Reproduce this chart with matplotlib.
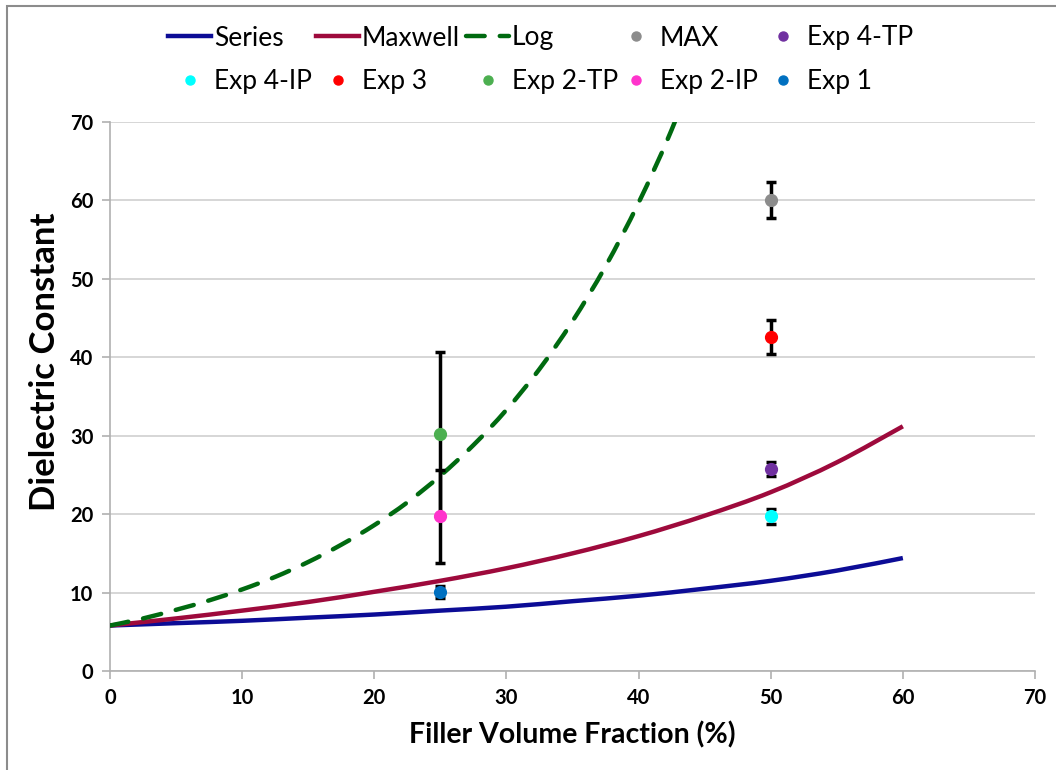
import matplotlib
matplotlib.use("Agg")
import matplotlib.pyplot as plt
from matplotlib.lines import Line2D
from matplotlib.patches import Rectangle, PathPatch
from matplotlib.path import Path

plt.rcParams['font.family'] = ['Lato', 'DejaVu Sans']

# Model curves: filler volume fraction (%) vs dielectric constant
model_x = [0, 5, 10, 15, 20, 25, 30, 35, 40, 45, 50, 55, 60]
series_y = [5.8, 6.1, 6.4, 6.8, 7.2, 7.7, 8.2, 8.9, 9.6, 10.5, 11.5, 12.8, 14.4]
maxwell_y = [5.8, 6.7, 7.7, 8.8, 10.1, 11.5, 13.1, 15.0, 17.2, 19.8, 22.8, 26.6, 31.2]

log_x = [0, 2.5, 5, 7.5, 10, 12.5, 15, 17.5, 20, 22.5, 25, 27.5, 30,
         32.5, 35, 37.5, 40, 42.5, 45]
log_y = [5.8, 6.7, 7.8, 9.0, 10.4, 12.0, 13.9, 16.1, 18.6, 21.5, 24.9, 28.8,
         33.3, 38.5, 44.6, 51.6, 59.7, 69.0, 79.9]

# Measured samples with error bars
exp_labels = ['MAX', 'Exp 4-TP', 'Exp 4-IP', 'Exp 3', 'Exp 2-TP', 'Exp 2-IP', 'Exp 1']
exp_x = [50, 50, 50, 50, 25, 25, 25]
exp_y = [60.0, 25.8, 19.7, 42.6, 30.2, 19.7, 10.1]
exp_err = [2.3, 0.9, 0.9, 2.2, 10.5, 5.9, 0.8]
exp_colors = ['#8c8c8c', '#7030a0', '#00ffff', '#ff0000', '#4caf50', '#ff33cc', '#0070c0']

x_ticks = [0, 10, 20, 30, 40, 50, 60, 70]
y_ticks = [0, 10, 20, 30, 40, 50, 60, 70]


def smooth_path(xs, ys):
    """Catmull-Rom style smoothed path through the given points."""
    pts = list(zip(xs, ys))
    verts = [pts[0]]
    codes = [Path.MOVETO]
    n = len(pts)
    for i in range(n - 1):
        p0 = pts[i - 1] if i > 0 else pts[i]
        p1 = pts[i]
        p2 = pts[i + 1]
        p3 = pts[i + 2] if i + 2 < n else pts[i + 1]
        c1 = (p1[0] + (p2[0] - p0[0]) / 6, p1[1] + (p2[1] - p0[1]) / 6)
        c2 = (p2[0] - (p3[0] - p1[0]) / 6, p2[1] - (p3[1] - p1[1]) / 6)
        verts += [c1, c2, p2]
        codes += [Path.CURVE4] * 3
    return Path(verts, codes)


W, H = 1056, 770
fig = plt.figure(figsize=(W / 100, H / 100), dpi=100)
ax = fig.add_axes([110 / W, 1 - 671 / H, 925 / W, 549 / H])

c_series = '#0c0c96'
c_maxwell = '#9e0a3c'
c_log = '#006a10'
LW = 3.2
DASH = (4.2, 3.4)

ax.add_patch(PathPatch(smooth_path(model_x, series_y), fill=False, ec=c_series,
                       lw=LW, zorder=3, capstyle='butt'))
ax.add_patch(PathPatch(smooth_path(model_x, maxwell_y), fill=False, ec=c_maxwell,
                       lw=LW, zorder=3, capstyle='butt'))
ax.add_patch(PathPatch(smooth_path(log_x, log_y), fill=False, ec=c_log,
                       lw=LW, zorder=3, linestyle=(0, DASH), capstyle='round'))

for xv, yv, ev in zip(exp_x, exp_y, exp_err):
    ax.errorbar(xv, yv, yerr=ev, fmt='none', ecolor='black', elinewidth=2.5,
                capsize=3.5, capthick=2.5, zorder=4)
for xv, yv, col in zip(exp_x, exp_y, exp_colors):
    ax.plot(xv, yv, 'o', color=col, ms=8.5, mec=col, zorder=5)

ax.set_xlim(0, 70)
ax.set_ylim(0, 70)
ax.set_xticks(x_ticks)
ax.set_yticks(y_ticks)
ax.yaxis.grid(True, color='#d0d0d0', lw=1.2)
ax.set_axisbelow(True)
for side in ['top', 'right']:
    ax.spines[side].set_visible(False)
for side in ['left', 'bottom']:
    ax.spines[side].set_color('#b0b0b0')
    ax.spines[side].set_linewidth(1.2)
ax.tick_params(axis='both', direction='out', length=6, width=1.2, color='#b0b0b0',
               labelsize=14.5, pad=6)
for lab in ax.get_xticklabels() + ax.get_yticklabels():
    lab.set_fontweight('bold')

ax.set_xlabel('Filler Volume Fraction (%)', fontsize=20.5, fontweight='bold', labelpad=10)
ax.set_ylabel('Dielectric Constant', fontsize=25, fontweight='bold')
ax.yaxis.set_label_coords(-0.053, 0.563)

# Legend laid out as two rows of five entries
handles = [
    Line2D([], [], color=c_series, lw=LW),
    Line2D([], [], color=c_maxwell, lw=LW),
    Line2D([], [], color=c_log, lw=LW, dashes=DASH, dash_capstyle='round'),
]
labels = ['Series', 'Maxwell', 'Log']
for lab, col in zip(exp_labels, exp_colors):
    handles.append(Line2D([], [], ls='none', marker='o', color=col, ms=6.5))
    labels.append(lab)

col_text_x = [214, 362, 512, 660, 807]
row_y = [38, 82]
for i, (h, lab) in enumerate(zip(handles, labels)):
    r, c = divmod(i, 5)
    fig.legend(handles=[h], labels=[lab], loc='center left',
               bbox_to_anchor=((col_text_x[c] - 46) / W, 1 - row_y[r] / H),
               frameon=False, borderpad=0, borderaxespad=0, handlelength=1.63,
               handletextpad=0.11, fontsize=19)

fig.patches.append(Rectangle((7 / W, -0.05), 1.2, 1.05 - 6 / H,
                             transform=fig.transFigure, fill=False,
                             ec='#8c8c8c', lw=1.5))

fig.savefig('out.png', dpi=100)
